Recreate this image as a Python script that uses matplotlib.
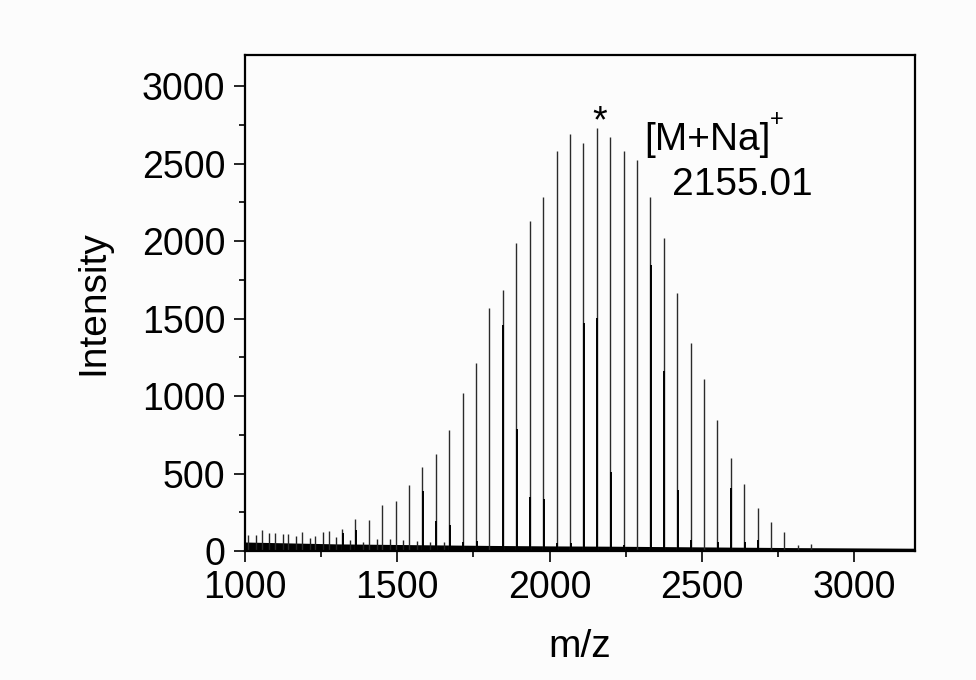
import numpy as np
import matplotlib
matplotlib.use("Agg")
import matplotlib.pyplot as plt
from matplotlib.ticker import MultipleLocator

plt.rcParams['font.family'] = ['Liberation Sans', 'DejaVu Sans']

# main PEG-like series (m/z, intensity)
main_mz = [1010.23, 1054.26, 1098.29, 1142.32, 1186.35, 1230.38, 1274.41, 1318.44,
           1362.47, 1406.50, 1450.53, 1494.56, 1538.59, 1582.62, 1626.65, 1670.68,
           1714.71, 1758.74, 1802.77, 1846.80, 1890.83, 1934.86, 1978.89, 2022.92,
           2066.95, 2110.98, 2155.01, 2199.04, 2243.07, 2287.10, 2331.13, 2375.16,
           2419.19, 2463.22, 2507.25, 2551.28, 2595.31, 2639.34, 2683.37, 2727.40,
           2771.43, 2815.46, 2859.49]
main_int = [103, 135, 114, 107, 120, 99, 129, 142,
            208, 200, 299, 325, 426, 540, 626, 781, 1017, 1211,
            1566, 1684, 1989, 2129, 2282, 2583, 2690, 2630, 2727,
            2669, 2583, 2523, 2286, 2017, 1667, 1344, 1108, 845, 598,
            432, 275, 189, 120, 40, 45]

# overlapping second distribution (darker, lower parts of the sticks)
side_mz = [1320.4, 1364.5, 1584.6, 1628.7, 1672.7, 1716.7, 1760.7, 1848.8,
           1892.8, 1936.9, 1980.9, 2024.9, 2069.0, 2113.0, 2157.0, 2201.0,
           2245.1, 2333.1, 2377.2, 2421.2, 2465.2, 2553.3, 2597.3, 2641.3, 2685.4]
side_int = [113, 133, 389, 196, 166, 60, 66, 1458,
            787, 348, 335, 52, 52, 1471, 1505, 512,
            40, 1845, 1163, 393, 70, 60, 406, 60, 70]

# small peaks between the main ones at low mass
low_mz = [1036, 1080, 1124, 1168, 1212, 1256, 1300, 1344, 1388, 1432,
          1476, 1520, 1564, 1608, 1652]
low_int = [103, 114, 110, 99, 84, 123, 90, 70, 60, 75, 80, 70, 65, 60, 55]

# baseline noise envelope
noise_mz = [1000, 1100, 1200, 1300, 1400, 1500, 1600, 1800, 2000, 2200,
            2400, 2600, 2800, 3000, 3200]
noise_top = [58, 54, 50, 46, 44, 42, 40, 36, 33, 31, 28, 25, 22, 20, 18]

fig = plt.figure(figsize=(9.76, 6.8), dpi=100, facecolor='#fcfcfc')
ax = fig.add_axes([0.251, 0.1897, 0.6865, 0.7294])
ax.set_facecolor('#fcfcfc')

ax.fill_between(noise_mz, 0, noise_top, color='black', lw=0)
ax.vlines(low_mz, 0, low_int, color='#222222', lw=1.0)
ax.vlines(main_mz, 0, main_int, color='#2b2b2b', lw=1.0)
ax.vlines(side_mz, 0, side_int, color='black', lw=1.4)

ax.set_xlim(1000, 3200)
ax.set_ylim(0, 3200)
ax.xaxis.set_major_locator(MultipleLocator(500))
ax.xaxis.set_minor_locator(MultipleLocator(250))
ax.yaxis.set_major_locator(MultipleLocator(500))
ax.yaxis.set_minor_locator(MultipleLocator(250))
ax.tick_params(which='major', direction='out', length=8, width=1.2,
               labelsize=27, pad=6)
ax.tick_params(which='minor', direction='out', length=4, width=1.2)
for s in ax.spines.values():
    s.set_linewidth(1.6)

ax.set_xlabel('m/z', fontsize=28, labelpad=16)
ax.set_ylabel('Intensity', fontsize=28, labelpad=22)

ax.text(2164, 2700, '*', fontsize=27, ha='center', va='baseline')
ax.text(2311, 2587, '[M+Na]', fontsize=28, ha='left', va='baseline')
ax.text(2746, 2780, '+', fontsize=17, ha='center', va='center')
ax.text(2403, 2297, '2155.01', fontsize=28, ha='left', va='baseline')

fig.savefig('out.png', dpi=100, facecolor=fig.get_facecolor())
